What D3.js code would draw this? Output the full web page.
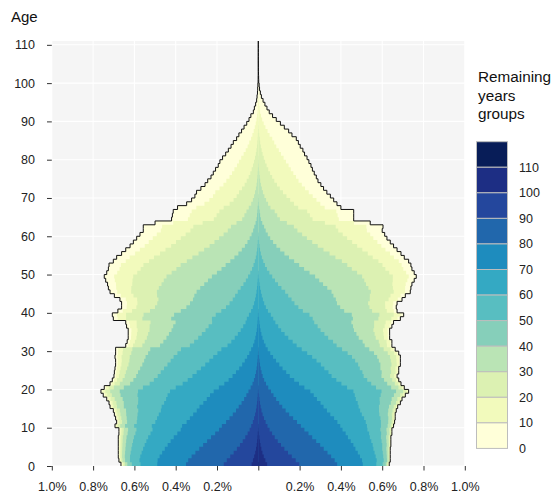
<!DOCTYPE html>
<html>
<head>
<meta charset="utf-8">
<script src="https://cdn.jsdelivr.net/npm/d3@7"></script>
<style>
  body { margin: 0; background: #fff; }
  text { font-family: "Liberation Sans", Arial, sans-serif; }
</style>
</head>
<body>
<svg id="chart" width="558" height="499"></svg>
<script>
// Share of total population (%) by single year of age 0..110, left side
const leftShare = [
  0.665,0.675,0.678,0.678,0.678,0.678,0.678,0.678,0.675,0.675,
  0.694,0.686,0.691,0.697,0.702,0.718,0.723,0.734,0.751,0.762,
  0.746,0.718,0.707,0.699,0.697,0.694,0.691,0.691,0.694,0.691,
  0.691,0.642,0.635,0.630,0.630,0.630,0.638,0.642,0.702,0.707,
  0.680,0.662,0.662,0.670,0.697,0.718,0.726,0.730,0.739,0.746,
  0.734,0.726,0.723,0.702,0.686,0.662,0.642,0.621,0.605,0.589,
  0.573,0.557,0.557,0.500,0.420,0.416,0.412,0.391,0.347,0.323,
  0.307,0.299,0.278,0.258,0.245,0.229,0.218,0.207,0.194,0.186,
  0.173,0.158,0.145,0.132,0.121,0.105,0.094,0.081,0.069,0.056,
  0.045,0.036,0.024,0.019,0.013,0.008,0.006,0.004,0.003,0.002,
  0.001,0.0008,0.0005,0.0003,0.0002,0.0001,0.0001,0,0,0,0
];
// right side
const rightShare = [
  0.634,0.639,0.639,0.639,0.639,0.642,0.642,0.642,0.647,0.647,
  0.655,0.660,0.663,0.663,0.668,0.675,0.688,0.696,0.712,0.728,
  0.707,0.691,0.680,0.672,0.680,0.680,0.688,0.688,0.688,0.680,
  0.663,0.647,0.647,0.636,0.636,0.636,0.647,0.655,0.688,0.704,
  0.672,0.668,0.672,0.696,0.712,0.736,0.739,0.744,0.755,0.765,
  0.755,0.744,0.739,0.728,0.707,0.691,0.672,0.655,0.639,0.623,
  0.612,0.600,0.604,0.542,0.462,0.462,0.462,0.400,0.381,0.365,
  0.349,0.332,0.316,0.303,0.289,0.281,0.271,0.262,0.255,0.245,
  0.236,0.224,0.216,0.203,0.194,0.184,0.163,0.147,0.126,0.107,
  0.087,0.069,0.053,0.042,0.032,0.023,0.015,0.010,0.006,0.004,
  0.002,0.0015,0.001,0.0005,0.0003,0.0002,0.0001,0,0,0,0
];
// survivors to exact age x (lx, radix 1), left side
const leftSurvival = [
  1.00000,0.99543,0.99484,0.99425,0.99365,0.99303,0.99242,0.99179,0.99115,0.99050,
  0.98983,0.98916,0.98846,0.98775,0.98703,0.98629,0.98552,0.98474,0.98393,0.98309,
  0.98223,0.98133,0.98041,0.97944,0.97844,0.97740,0.97631,0.97518,0.97399,0.97275,
  0.97144,0.97007,0.96863,0.96710,0.96550,0.96381,0.96201,0.96011,0.95810,0.95596,
  0.95369,0.95128,0.94871,0.94598,0.94307,0.93996,0.93664,0.93310,0.92932,0.92528,
  0.92097,0.91635,0.91141,0.90613,0.90048,0.89444,0.88798,0.88107,0.87369,0.86579,
  0.85735,0.84834,0.83872,0.82845,0.81750,0.80584,0.79343,0.78024,0.76622,0.75134,
  0.73559,0.71893,0.70134,0.68279,0.66329,0.64281,0.62136,0.59896,0.57563,0.55140,
  0.52632,0.50047,0.47390,0.44674,0.41908,0.39107,0.36286,0.33460,0.30645,0.27870,
  0.25142,0.22489,0.19932,0.17489,0.15178,0.13018,0.11028,0.09212,0.07580,0.06139,
  0.04884,0.03813,0.02916,0.02181,0.01593,0.01133,0.00784,0.00525,0.00341,0.00213,
  0.00128
];
// right side
const rightSurvival = [
  1.00000,0.99626,0.99601,0.99575,0.99549,0.99522,0.99495,0.99467,0.99439,0.99409,
  0.99379,0.99348,0.99316,0.99283,0.99248,0.99213,0.99176,0.99137,0.99097,0.99055,
  0.99012,0.98966,0.98917,0.98867,0.98813,0.98757,0.98697,0.98634,0.98567,0.98496,
  0.98420,0.98340,0.98254,0.98162,0.98065,0.97960,0.97848,0.97727,0.97598,0.97460,
  0.97311,0.97151,0.96979,0.96793,0.96594,0.96378,0.96146,0.95895,0.95625,0.95334,
  0.95019,0.94679,0.94312,0.93916,0.93488,0.93026,0.92527,0.91989,0.91408,0.90781,
  0.90106,0.89377,0.88593,0.87748,0.86838,0.85861,0.84811,0.83684,0.82475,0.81180,
  0.79795,0.78315,0.76736,0.75055,0.73268,0.71372,0.69364,0.67244,0.65011,0.62665,
  0.60207,0.57642,0.54976,0.52213,0.49363,0.46439,0.43450,0.40419,0.37358,0.34287,
  0.31233,0.28216,0.25262,0.22397,0.19647,0.17035,0.14585,0.12317,0.10247,0.08387,
  0.06743,0.05318,0.04107,0.03100,0.02282,0.01635,0.01137,0.00766,0.00498,0.00312,
  0.00187
];

// remaining years groups (lower bound of each 10 year group) and their fills
const groupStarts = [0, 10, 20, 30, 40, 50, 60, 70, 80, 90, 100, 110];
const groupColors = ["#FFFFD9", "#F2FABC", "#DCF1B2", "#BAE4B5", "#86CFBA", "#58BEC1",
                     "#34A9C3", "#1E8CBE", "#2167AC", "#24479D", "#1D2E84", "#081D58"];

const xTicks = [-1, -0.8, -0.6, -0.4, -0.2, 0, 0.2, 0.4, 0.6, 0.8, 1];
const yTicks = [0, 10, 20, 30, 40, 50, 60, 70, 80, 90, 100, 110];

const ages = d3.range(0, 111);

const svg = d3.select("#chart");

// scales
const x = d3.scaleLinear().domain([-1, 1]).range([51.8, 464.8]);
const y = d3.scaleLinear().domain([0, 111]).range([466, 41]);

// panel background
svg.append("rect")
  .attr("x", x(-1))
  .attr("y", y(111))
  .attr("width", x(1) - x(-1))
  .attr("height", y(0) - y(111))
  .attr("fill", "#f5f5f5");

// grid lines
const grid = svg.append("g").attr("stroke", "#fff").attr("stroke-width", 1.07);
grid.selectAll(".vgrid").data(xTicks).join("line")
  .attr("class", "vgrid")
  .attr("x1", d => x(d)).attr("x2", d => x(d))
  .attr("y1", y(111)).attr("y2", y(0));
grid.selectAll(".hgrid").data(yTicks).join("line")
  .attr("class", "hgrid")
  .attr("x1", x(-1)).attr("x2", x(1))
  .attr("y1", d => y(d)).attr("y2", d => y(d));

// share of an age group that still has at least r years to live
function stillAlive(share, survival, age, r) {
  const l0 = survival[age];
  const lr = age + r < survival.length ? survival[age + r] : 0;
  return l0 > 0 ? share[age] * lr / l0 : 0;
}

const sides = [
  { sign: -1, share: leftShare, survival: leftSurvival },
  { sign: 1, share: rightShare, survival: rightSurvival }
];

const bars = svg.append("g");

sides.forEach(function(side) {
  groupStarts.forEach(function(start, g) {
    const pts = ages.map(a => ({ age: a, w: stillAlive(side.share, side.survival, a, start) }));
    pts.push({ age: 111, w: 0 });

    const area = d3.area()
      .curve(d3.curveStepBefore)
      .y(d => y(d.age))
      .x0(x(0))
      .x1(d => x(side.sign * d.w));

    bars.append("path")
      .datum(pts)
      .attr("d", area)
      .attr("fill", groupColors[g]);
  });

  // outline of the total
  const outline = ages.map(a => ({ age: a, w: side.share[a] }));
  outline.push({ age: 111, w: 0 });

  const line = d3.line()
    .curve(d3.curveStepBefore)
    .y(d => y(d.age))
    .x(d => x(side.sign * d.w));

  svg.append("path")
    .datum(outline)
    .attr("d", line)
    .attr("fill", "none")
    .attr("stroke", "#111")
    .attr("stroke-width", 1);
});

// axes
const yAxis = d3.axisLeft(y).tickValues(yTicks).tickSize(4.8).tickPadding(12);
svg.append("g")
  .attr("transform", "translate(" + x(-1) + ",0)")
  .call(yAxis)
  .call(g => g.select(".domain").remove())
  .call(g => g.selectAll("line").attr("stroke", "#333"))
  .call(g => g.selectAll("text").attr("fill", "#222").style("font-size", "12.5px"));

const pct = d3.format(".1f");
const xAxis = d3.axisBottom(x).tickValues(xTicks).tickSize(4.5).tickPadding(12)
  .tickFormat(d => Math.abs(d) < 1e-9 ? "" : pct(Math.abs(d)) + "%");
svg.append("g")
  .attr("transform", "translate(0," + y(0) + ")")
  .call(xAxis)
  .call(g => g.select(".domain").remove())
  .call(g => g.selectAll("line").attr("stroke", "#333"))
  .call(g => g.selectAll("text").attr("fill", "#222").style("font-size", "12.5px"));

// y title
svg.append("text")
  .attr("x", 11)
  .attr("y", 22)
  .style("font-size", "15px")
  .attr("fill", "#111")
  .text("Age");

// legend
const legend = svg.append("g");
["Remaining", "years", "groups"].forEach(function(t, i) {
  legend.append("text")
    .attr("x", 478)
    .attr("y", 82 + i * 18.5)
    .style("font-size", "15.3px")
    .attr("fill", "#111")
    .text(t);
});

const keyTop = 141.7;
const keyH = 25.56;
const reversed = groupColors.slice().reverse();
legend.selectAll(".key").data(reversed).join("rect")
  .attr("class", "key")
  .attr("x", 476.5)
  .attr("y", (d, i) => keyTop + i * keyH)
  .attr("width", 31)
  .attr("height", keyH)
  .attr("fill", d => d)
  .attr("stroke", "#bdbdbd")
  .attr("stroke-width", 1);

const keyLabels = groupStarts.slice().reverse();
legend.selectAll(".klab").data(keyLabels).join("text")
  .attr("class", "klab")
  .attr("x", 519)
  .attr("y", (d, i) => keyTop + (i + 1) * keyH)
  .attr("dy", "0.35em")
  .style("font-size", "12.5px")
  .attr("fill", "#222")
  .text(d => d);
</script>
</body>
</html>
